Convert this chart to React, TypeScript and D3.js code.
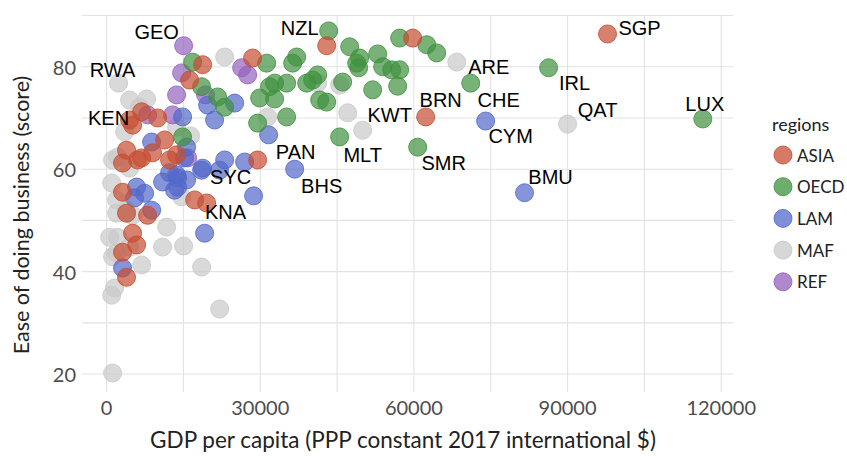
import React from 'react'
import * as d3 from 'd3'

// [gdp per capita, ease of doing business score]
const asia: [number, number][] = [
  [97800, 86.4], [62300, 70.2], [59760, 85.6], [42970, 84.1], [18750, 80.4],
  [28510, 81.7], [16210, 77.4], [29490, 61.8], [6840, 71.2], [5080, 68.6],
  [9960, 70.0], [11330, 65.7], [4490, 69.6], [13670, 62.8], [8980, 63.2],
  [6050, 61.8], [3120, 61.2], [12300, 61.8], [3900, 63.7], [6840, 62.2],
  [17190, 54.0], [19530, 53.4], [3120, 55.5], [3900, 51.4], [8010, 51.0],
  [5080, 47.5], [5860, 45.2], [3120, 43.8], [3900, 38.9]
]

const oecd: [number, number][] = [
  [116400, 69.8], [86300, 79.8], [71090, 76.8], [60740, 64.3], [45500, 66.3],
  [43360, 87.0], [47460, 83.9], [37110, 81.9], [36330, 80.7], [31250, 80.7],
  [52930, 82.5], [49410, 81.7], [48830, 80.7], [49220, 79.8], [53900, 80.0],
  [55660, 79.4], [57220, 79.4], [56830, 76.2], [57220, 85.6], [62500, 84.3],
  [64450, 82.7], [31830, 76.1], [32810, 76.8], [35150, 76.8], [39060, 76.8],
  [41210, 78.4], [40230, 77.4], [41600, 73.5], [42970, 73.1], [46090, 77.0],
  [51950, 75.5], [29880, 73.9], [32810, 73.7], [35150, 70.2], [16800, 80.9],
  [18550, 76.1], [21680, 74.1], [23050, 72.1], [29490, 69.0], [14840, 66.3]
]

const lam: [number, number][] = [
  [74000, 69.4], [81600, 55.4], [31640, 66.7], [36720, 60.0], [28700, 54.8],
  [25000, 72.9], [19730, 72.5], [21090, 69.6], [14840, 70.2], [8790, 65.3],
  [15620, 64.3], [15230, 62.2], [18550, 59.8], [23050, 61.8], [26950, 61.4],
  [12300, 59.3], [13870, 58.3], [15620, 57.9], [22070, 59.8], [18750, 60.2],
  [13670, 58.9], [13870, 56.5], [10940, 57.5], [13280, 55.9], [5470, 54.4],
  [7420, 55.3], [5860, 56.5], [8790, 52.0], [19140, 47.5], [3120, 40.7]
]

const maf: [number, number][] = [
  [90000, 68.8], [68360, 80.9], [50000, 67.6], [47070, 71.0], [31440, 70.2],
  [45500, 76.4], [41210, 76.8], [23050, 81.9], [2340, 76.8], [4490, 73.5],
  [7810, 73.7], [3520, 67.3], [13670, 68.2], [16400, 66.5], [6440, 72.1],
  [1170, 61.8], [2150, 62.4], [4490, 60.2], [1000, 57.3], [1950, 54.0],
  [14650, 54.6], [3900, 52.0], [5080, 51.0], [1950, 51.4], [11720, 48.7],
  [600, 46.7], [2150, 46.7], [4490, 44.8], [1950, 43.6], [1170, 42.9],
  [10940, 44.8], [15040, 45.0], [6840, 41.3], [18550, 40.9], [1560, 36.8],
  [1000, 35.4], [22070, 32.7], [1170, 20.2]
]

const ref: [number, number][] = [
  [15040, 84.1], [14650, 78.8], [26370, 79.8], [27540, 78.4], [13670, 74.5],
  [19330, 74.5], [12890, 70.6], [8010, 70.6], [15820, 62.2]
]

const regionNames = ['ASIA', 'OECD', 'LAM', 'MAF', 'REF']
const regionColors = ['#c64d32', '#3f923f', '#5368c9', '#c9c9c9', '#9462bd']

// labelled countries: code, gdp, score
const labelCodes = ['SGP', 'LUX', 'IRL', 'QAT', 'CYM', 'CHE', 'ARE', 'BMU', 'BRN', 'SMR',
  'KWT', 'MLT', 'NZL', 'PAN', 'BHS', 'GEO', 'RWA', 'KEN', 'SYC', 'KNA']
const labelGdp = [97800, 116400, 86300, 90000, 74000, 71090, 68360, 81600, 62300, 60740,
  50000, 45500, 43360, 31640, 36720, 15040, 2340, 4490, 26950, 28700]
const labelScore = [86.4, 69.8, 79.8, 68.8, 69.4, 76.8, 80.9, 55.4, 70.2, 64.3,
  67.6, 66.3, 87.0, 66.7, 60.0, 84.1, 76.8, 73.5, 61.4, 54.8]
// repel offsets in px (label centre relative to point)
const labelOffsets: [number, number][] = [
  [32, -6], [2, -15], [26, 15], [30, -14], [25, 15], [28, 17], [32, 5], [26, -16], [15, -17], [26, 16],
  [27, -15], [23, 18], [-29, -3], [27, 17], [27, 17], [-27, -14], [-6, -13], [-21, 18], [-14, 15], [-28, 16]
]

const xTicks = [0, 30000, 60000, 90000, 120000]
const yTicks = [20, 40, 60, 80]

const W = 847
const H = 456
const axisFont = 'Lato, "Open Sans", sans-serif'

export default function App() {
  const x = d3.scaleLinear().domain([-4800, 122300]).range([82, 733])
  const y = d3.scaleLinear().domain([16.5, 90.1]).range([392, 15])

  const xGrid = d3.range(0, 120001, 15000)
  const yGrid = d3.range(20, 91, 10)

  const series = [asia, oecd, lam, maf, ref]
  const drawOrder = [3, 4, 2, 1, 0]

  return (
    <svg width={W} height={H} style={{ position: 'absolute', left: 0, top: 0, background: '#fff' }}>
      <g>
        {xGrid.map(v => (
          <line key={'gx' + v} x1={x(v)} x2={x(v)} y1={y(90.1)} y2={y(16.5)} stroke="#e2e2e2" strokeWidth={1.1} />
        ))}
        {yGrid.map(v => (
          <line key={'gy' + v} x1={82} x2={733} y1={y(v)} y2={y(v)} stroke="#e2e2e2" strokeWidth={1.1} />
        ))}
      </g>

      {drawOrder.map(ri => (
        <g key={regionNames[ri]}>
          {series[ri].map((d, i) => (
            <circle
              key={i}
              cx={x(d[0])}
              cy={y(d[1])}
              r={9}
              fill={regionColors[ri]}
              fillOpacity={0.7}
              stroke={regionColors[ri]}
              strokeOpacity={0.85}
              strokeWidth={1}
            />
          ))}
        </g>
      ))}

      {labelCodes.map((c, i) => (
        <text
          key={c}
          x={x(labelGdp[i]) + labelOffsets[i][0]}
          y={y(labelScore[i]) + labelOffsets[i][1]}
          textAnchor="middle"
          dominantBaseline="central"
          fontFamily='"Liberation Sans", Arial, sans-serif'
          fontSize={20}
          fill="#000"
        >
          {c}
        </text>
      ))}

      {xTicks.map(v => (
        <text key={'xt' + v} x={x(v)} y={415} textAnchor="middle" fontFamily={axisFont} fontSize={20} fill="#4d4d4d">
          {v}
        </text>
      ))}
      {yTicks.map(v => (
        <text key={'yt' + v} x={76} y={y(v)} textAnchor="end" dominantBaseline="central" fontFamily={axisFont} fontSize={20} fill="#4d4d4d">
          {v}
        </text>
      ))}

      <text x={403} y={448} textAnchor="middle" fontFamily={axisFont} fontSize={22.5} fill="#222">
        GDP per capita (PPP constant 2017 international $)
      </text>
      <text
        transform={`translate(29, 215) rotate(-90)`}
        textAnchor="middle"
        fontFamily={axisFont}
        fontSize={21.5}
        fill="#222"
      >
        Ease of doing business (score)
      </text>

      <g>
        <text x={772} y={131} fontFamily={axisFont} fontSize={18} fill="#222">regions</text>
        {regionNames.map((n, i) => (
          <g key={n} transform={`translate(0, ${155 + i * 31.7})`}>
            <circle cx={783} cy={0} r={9} fill={regionColors[i]} fillOpacity={0.75} stroke={regionColors[i]} strokeOpacity={0.85} />
            <text x={797} y={0} dominantBaseline="central" fontFamily={axisFont} fontSize={17} fill="#222">{n}</text>
          </g>
        ))}
      </g>
    </svg>
  )
}
